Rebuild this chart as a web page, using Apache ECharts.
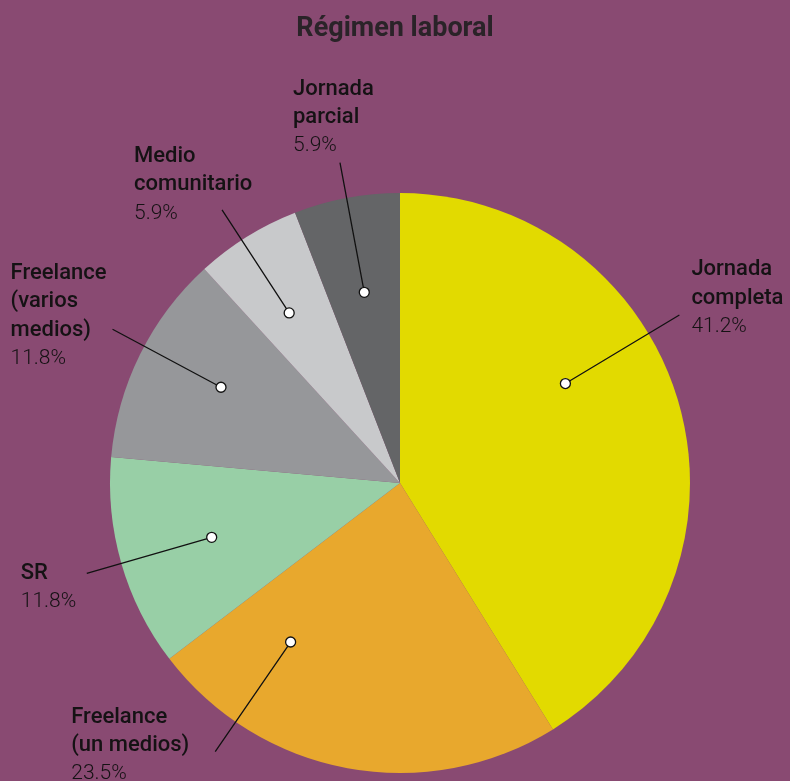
<!DOCTYPE html>
<html>
<head>
<meta charset="utf-8">
<script src="https://cdn.jsdelivr.net/npm/echarts@6/dist/echarts.min.js"></script>
<style>
  html, body { margin: 0; padding: 0; background: #894a72; }
  #chart { width: 790px; height: 781px; }
</style>
</head>
<body>
<div id="chart"></div>
<script>
// categories, clockwise from 12 o'clock
const categories = ['Jornada\ncompleta', 'Freelance\n(un medios)', 'SR', 'Freelance\n(varios\nmedios)', 'Medio\ncomunitario', 'Jornada\nparcial'];
const shares = [41.2, 23.5, 11.8, 11.8, 5.9, 5.9];
const colors = ['#e2da00', '#e8a82d', '#98cfa6', '#96979a', '#c8c9cb', '#646567'];

// layout: shift of each leader line from the slice middle (in share units)
const anchorShift = [-4.2, 6.7, 0, 0.5, -0.35, 0];
// layout: distance of each dot from the centre
const dotRadius = [193, 193, 196, 203, 203, 194];
// layout: label box offset from the end of each leader line
const labelOffsets = [[12, -17], [-144, -6], [-66, 14], [-102, -13], [-88, -25], [-47, -45]];

const center = [400, 483];
const pieR = 290;
const endR = 326;
const polarR = 360;

const total = shares.reduce((a, b) => a + b, 0);
const mids = [];
let acc = 0;
shares.forEach(v => { mids.push(acc + v / 2); acc += v; });

const pieData = categories.map((c, i) => ({ name: c, value: shares[i], itemStyle: { color: colors[i] } }));

// leader lines: dot inside the slice, label at the outer end
const leaderData = [];
categories.forEach((c, i) => {
    const a = mids[i] + anchorShift[i];
    leaderData.push({
        value: [dotRadius[i], a],
        symbol: 'circle',
        symbolSize: 10,
        itemStyle: { color: '#ffffff', borderColor: '#111', borderWidth: 1.3 },
    });
    leaderData.push({
        value: [endR, a],
        symbol: 'rect',
        symbolSize: 0,
        itemStyle: { color: 'rgba(0,0,0,0)', borderWidth: 0 },
        label: {
            show: true,
            position: labelOffsets[i],
            align: 'left',
            verticalAlign: 'middle',
            formatter: c.split('\n').map(s => '{n|' + s + '}').join('\n') + '\n{p|' + shares[i].toFixed(1) + '%}',
        },
    });
    leaderData.push('-');
});

const chart = echarts.init(document.getElementById('chart'));
chart.setOption({
    backgroundColor: '#894a72',
    animation: false,
    textStyle: { fontFamily: 'Roboto' },
    title: {
        text: 'Régimen laboral',
        left: 'center',
        top: 11,
        textStyle: { fontSize: 27, fontWeight: 'bold', color: '#2a2328', fontFamily: 'Roboto' },
    },
    polar: { center: center, radius: polarR },
    angleAxis: { type: 'value', min: 0, max: total, startAngle: 90, clockwise: true, show: false },
    radiusAxis: { type: 'value', min: 0, max: polarR, show: false },
    series: [
        {
            type: 'pie',
            center: center,
            radius: pieR,
            startAngle: 90,
            clockwise: true,
            silent: true,
            label: { show: false },
            labelLine: { show: false },
            data: pieData,
        },
        {
            type: 'line',
            coordinateSystem: 'polar',
            silent: true,
            clip: false,
            z: 5,
            connectNulls: false,
            showAllSymbol: true,
            lineStyle: { color: '#111', width: 1.3 },
            label: {
                rich: {
                    n: { fontSize: 22, fontWeight: 500, color: '#151214', lineHeight: 28.5, fontFamily: 'Roboto' },
                    p: { fontSize: 21, fontWeight: 300, color: '#151214', lineHeight: 28.5, fontFamily: 'Roboto' },
                },
            },
            labelLayout: { hideOverlap: false },
            data: leaderData,
        },
    ],
});
</script>
</body>
</html>
